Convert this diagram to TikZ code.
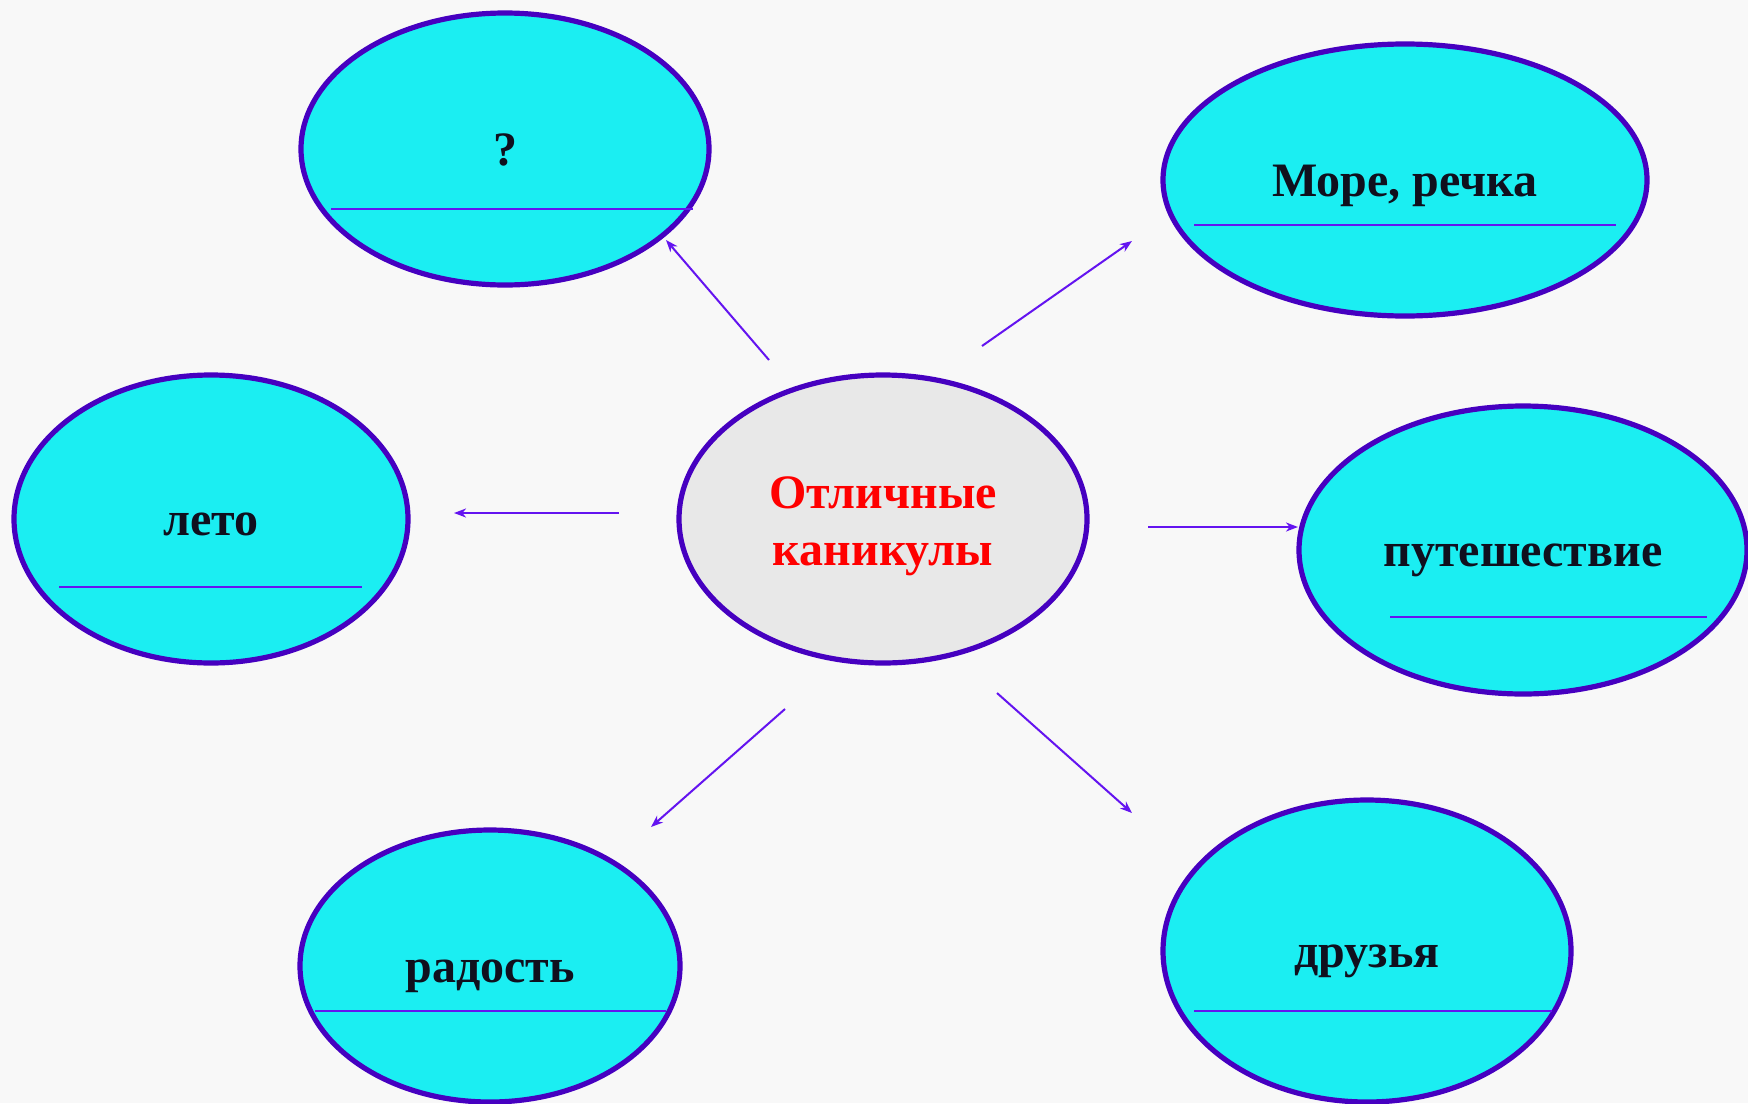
\documentclass[tikz,border=0pt]{standalone}
\usepackage{fontspec}
\setmainfont{Liberation Serif}
\usetikzlibrary{shapes.geometric,arrows.meta}
\definecolor{sky}{HTML}{1BEEF2}
\definecolor{rim}{HTML}{4600C0}
\definecolor{arr}{HTML}{6414F0}
\definecolor{paper}{HTML}{F8F8F8}
\definecolor{hub}{HTML}{E8E8E8}
\definecolor{ink}{HTML}{10101E}
\tikzset{
  idea/.style={ellipse, draw=rim, line width=2.6pt, fill=sky, inner sep=0pt,
    font=\fontsize{24}{28.5}\selectfont\bfseries, text=ink,
    text height=19.5pt, text depth=3pt},
  uline/.style={arr, line width=0.85pt},
  link/.style={arr, line width=1pt, ->}
}
\begin{document}
\begin{tikzpicture}[>={Stealth[length=6pt,width=4.5pt,inset=1.8pt]}, x=0.5pt, y=-0.5pt]
\clip (0,0) rectangle (1748,1103);
\fill[paper] (0,0) rectangle (1748,1103);
% centre
\node[idea, fill=hub, minimum width=204pt, minimum height=144pt] (hub) at (883,519) {};
\node[font=\fontsize{24}{28.5}\selectfont\bfseries, text=red, align=center]
  (hubtext) at (883,526) {Отличные\\каникулы};
% ideas round it
\node[idea, minimum width=204pt, minimum height=136pt] (ask) at (505,149) {?};
\node[idea, minimum width=242pt, minimum height=136pt] (sea) at (1405,180) {Море, речка};
\node[idea, minimum width=197pt, minimum height=144pt] (summer) at (211,519) {лето};
\node[idea, minimum width=224pt, minimum height=144pt] (trip) at (1523,550) {путешествие};
\node[idea, minimum width=190pt, minimum height=136pt] (joy) at (490,966) {радость};
\node[idea, minimum width=204pt, minimum height=151pt] (friends) at (1367,951) {друзья};
% lines to write on
\draw[uline] (331,209)--(693,209);
\draw[uline] (1194,225)--(1616,225);
\draw[uline] (59,587)--(362,587);
\draw[uline] (1390,617)--(1707,617);
\draw[uline] (315,1011)--(666,1011);
\draw[uline] (1194,1011)--(1552,1011);
% arrow ends
\coordinate (askT) at (769,360);   \coordinate (askH) at (666,240);
\coordinate (seaT) at (982,346);   \coordinate (seaH) at (1132,241);
\coordinate (sumT) at (619,513);   \coordinate (sumH) at (454,513);
\coordinate (tripT) at (1148,527); \coordinate (tripH) at (1298,527);
\coordinate (joyT) at (785,709);   \coordinate (joyH) at (651,827);
\coordinate (frT) at (997,693);    \coordinate (frH) at (1132,813);
\draw[link] (askT)--(askH);
\draw[link] (seaT)--(seaH);
\draw[link] (sumT)--(sumH);
\draw[link] (tripT)--(tripH);
\draw[link] (joyT)--(joyH);
\draw[link] (frT)--(frH);
\end{tikzpicture}
\end{document}
